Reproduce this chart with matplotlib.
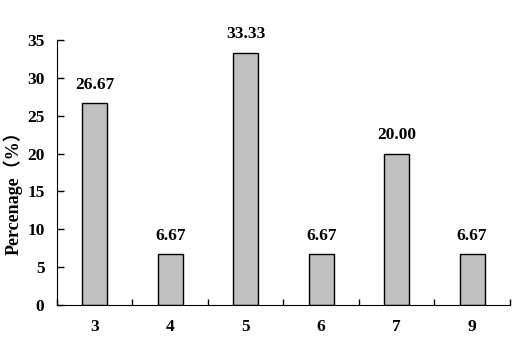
import matplotlib.pyplot as plt
import numpy as np

categorias = ["3", "4", "5", "6", "7", "9"]
porcentajes = [26.67, 6.67, 33.33, 6.67, 20.00, 6.67]

plt.rcParams['font.family'] = ['Liberation Serif', 'Noto Sans CJK SC']
plt.rcParams['font.weight'] = 'bold'

fig = plt.figure(figsize=(5.3, 3.43), dpi=100)
ax = fig.add_axes([0.1075, 0.111, 0.8545, 0.772])

x = np.arange(len(categorias))
ax.bar(x, porcentajes, width=0.33, color="#c0c0c0", edgecolor="black", linewidth=1.0)

for xi, v in zip(x, porcentajes):
    ax.text(xi, v + 1.4, f"{v:.2f}", ha="center", va="bottom", fontsize=12.5, fontweight="bold")

ax.set_xlim(-0.5, len(categorias) - 0.5)
ax.set_ylim(0, 35)
ax.set_yticks(range(0, 36, 5))
ax.set_xticks(x)
ax.set_xticklabels(categorias)
ax.set_xticks(np.arange(-0.5, len(categorias), 1.0), minor=True)
ax.tick_params(axis="x", which="major", length=0, pad=10, labelsize=12.5)
ax.tick_params(axis="x", which="minor", direction="in", length=4, width=1)
ax.tick_params(axis="y", direction="in", length=5, width=1, labelsize=12.5, pad=9)

ax.spines["top"].set_visible(False)
ax.spines["right"].set_visible(False)
ax.set_ylabel("Percenage（%）", fontsize=13, fontweight="bold")
ax.yaxis.set_label_coords(-0.076, 0.44)

fig.savefig("out.png", dpi=100)
